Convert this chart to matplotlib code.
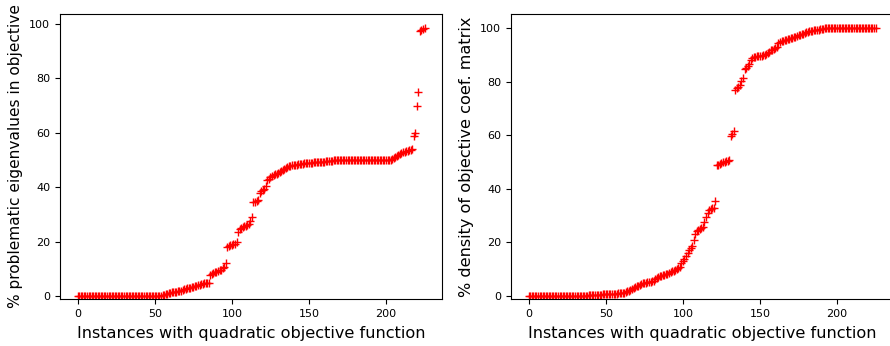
import matplotlib
matplotlib.use("Agg")
import matplotlib.pyplot as plt
import numpy as np

# % problematic eigenvalues in objective (sorted), 226 instances
eig_pct = (
    [0.0] * 55
    + [0.3, 0.5, 0.7, 0.9, 1.0, 1.1]
    + [1.3, 1.4, 1.5, 1.6, 1.7, 1.8, 2.0, 2.2, 2.4, 2.6]
    + [2.8, 3.0, 3.1, 3.2, 3.3, 3.5, 3.7, 3.9, 4.1, 4.3]
    + [4.5, 4.6, 4.7, 4.8, 4.9]
    + [7.6, 8.0, 8.4, 8.7, 9.0, 9.2, 9.4, 9.7, 10.2, 10.8, 12.0]
    + [18.2, 18.4, 18.6, 18.8, 19.0, 19.3, 20.0, 23.5]
    + [24.5, 25.0, 25.3, 25.6, 25.9, 26.2, 26.6, 27.5]
    + [29.2]
    + [34.5, 34.7, 35.0, 35.2]
    + [38.0, 38.5, 39.0, 39.5]
    + [40.5, 42.5, 43.0]
    + [43.8, 44.2, 44.5, 44.8, 45.0, 45.3, 45.6, 45.9, 46.3, 46.7, 47.2, 47.6]
    + [47.8, 47.9, 48.0, 48.1, 48.2, 48.3, 48.4, 48.5, 48.6, 48.7, 48.8, 48.8, 48.9, 48.9]
    + [49.0, 49.0, 49.1, 49.1, 49.2, 49.2, 49.3, 49.3, 49.4, 49.4, 49.5, 49.5, 49.6,
       49.7, 49.8, 49.9, 50.0, 50.0, 50.0]
    + [50.0] * 34
    + [50.3, 50.6, 51.0, 51.5, 51.9, 52.2, 52.5, 52.8, 53.0, 53.2, 53.4, 53.6, 53.8, 54.0]
    + [58.8, 60.0, 70.0, 75.0, 97.5, 98.0, 98.3, 98.6]
)

# % density of objective coefficient matrix (sorted), 226 instances
density_pct = (
    [0.0] * 31
    + [0.1, 0.1, 0.1, 0.1, 0.2, 0.2, 0.2, 0.2, 0.3, 0.3, 0.3, 0.4, 0.4, 0.4, 0.5, 0.5,
       0.5, 0.6, 0.6, 0.6]
    + [0.7, 0.7, 0.7, 0.8, 0.8, 0.9, 0.9, 1.0, 1.0, 1.1, 1.2, 1.3]
    + [1.5, 1.7, 2.0, 2.3, 2.6, 3.0, 3.3, 3.6, 3.9, 4.2, 4.5, 4.7, 4.9]
    + [5.0, 5.1, 5.2, 5.3, 5.5, 5.8, 6.2, 6.6, 7.0, 7.3]
    + [7.6, 7.8, 8.0, 8.2, 8.4, 8.6, 8.9, 9.2, 9.5, 9.8, 10.2, 10.6, 11.0]
    + [12.5, 13.2, 14.0, 15.0, 16.0, 17.0, 17.8, 18.5, 20.8]
    + [23.2, 24.2, 24.8, 25.0, 25.3, 25.6]
    + [27.8, 29.5, 31.0, 32.0, 32.5, 32.8, 33.0, 35.5]
    + [48.8, 49.0, 49.3, 49.6, 49.9, 50.1, 50.3, 50.5, 50.7]
    + [59.8, 60.5, 61.5]
    + [77.0, 77.5, 78.0, 78.6, 80.2, 81.5]
    + [84.5, 85.2, 85.8, 86.5]
    + [88.2, 88.8, 89.2, 89.3, 89.4, 89.5, 89.6, 89.7, 89.8, 90.0, 90.3, 90.7, 91.2]
    + [91.6, 91.9, 92.2, 92.6, 93.0]
    + [94.3, 94.7, 95.0, 95.2, 95.4, 95.6, 95.8, 96.0, 96.2, 96.4]
    + [96.6, 96.8, 97.0, 97.2, 97.4, 97.6, 97.8, 98.0, 98.3, 98.6, 98.8]
    + [98.9, 99.0, 99.1, 99.2, 99.3, 99.4, 99.5, 99.6, 99.7, 99.8, 99.9]
    + [100.0] * 32
)

xlabel = "Instances with quadratic objective function"
ylabel_left = "% problematic eigenvalues in objective"
ylabel_right = "% density of objective coef. matrix"

W, H = 890, 346
fig = plt.figure(figsize=(W / 100, H / 100), dpi=100)

def px_axes(l, t, r, b):
    return fig.add_axes([l / W, 1 - b / H, (r - l) / W, (b - t) / H])

ax1 = px_axes(60, 14, 442, 299)
ax2 = px_axes(511, 14, 893, 299)

for ax, data, ylab, ylim, yfs in [
    (ax1, eig_pct, ylabel_left, (-1.1, 103.7), 11.1),
    (ax2, density_pct, ylabel_right, (-1.1, 105.2), 11.6),
]:
    x = np.arange(len(data))
    ax.plot(x, data, "r+", markersize=5.5, markeredgewidth=1.0)
    ax.set_xlim(-11.5, 236.3)
    ax.set_ylim(*ylim)
    ax.set_xticks([0, 50, 100, 150, 200])
    ax.set_yticks([0, 20, 40, 60, 80, 100])
    ax.tick_params(labelsize=8)
    ax.set_xlabel(xlabel, fontsize=11.6, labelpad=5)
    ax.set_ylabel(ylab, fontsize=yfs, labelpad=4.5)

fig.savefig("out.png", dpi=100)
